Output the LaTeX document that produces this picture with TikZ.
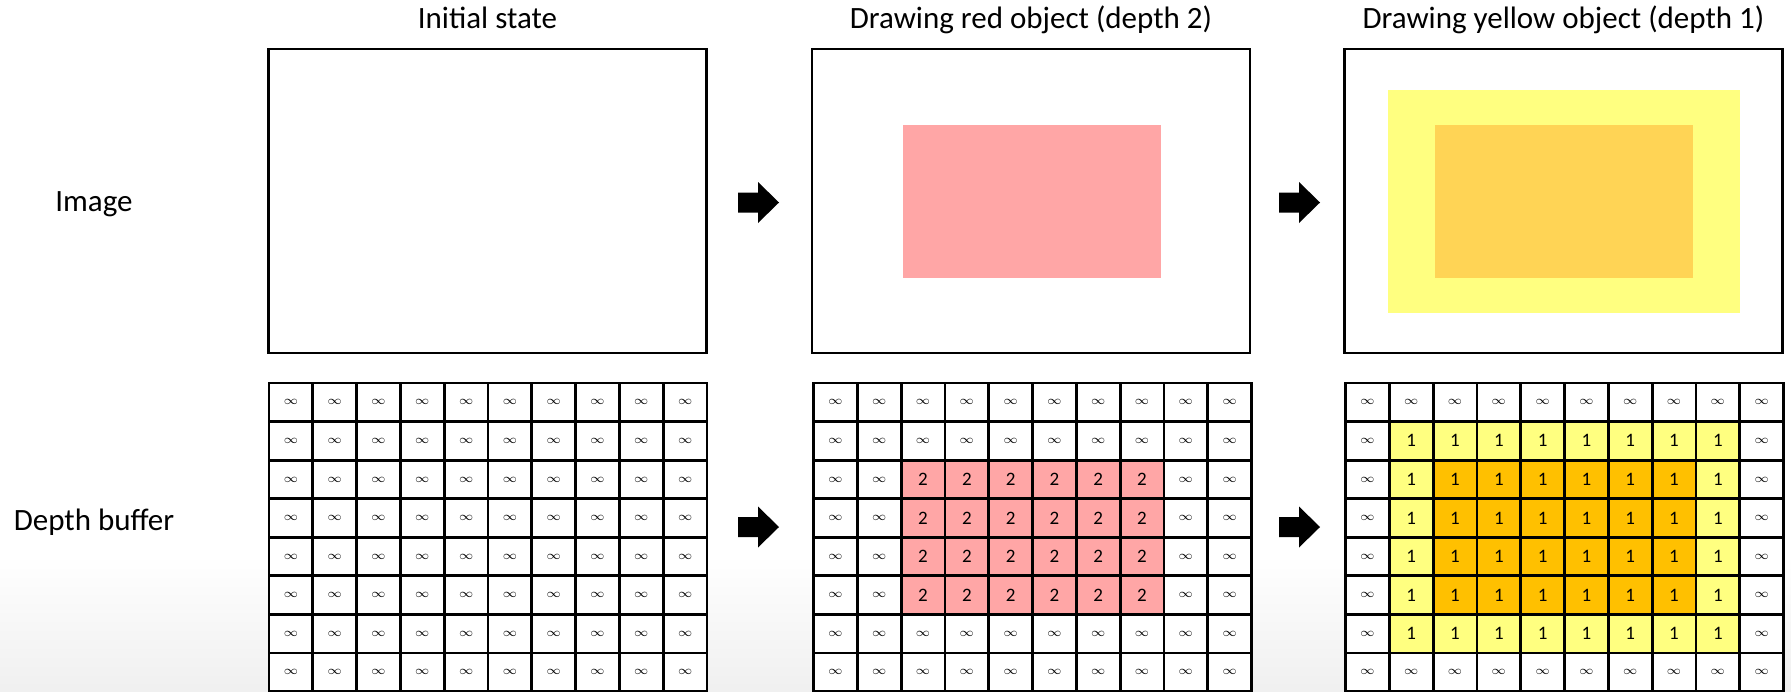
\documentclass[tikz,border=0pt]{standalone}
\usepackage{fontspec}
\setmainfont{Carlito}
\usetikzlibrary{positioning}
\definecolor{objred}{HTML}{FFA6A6}
\definecolor{objyellow}{HTML}{FFFF80}
\definecolor{objorange}{HTML}{FFD455}
\definecolor{cellgold}{HTML}{FFC000}

\begin{document}
\begin{tikzpicture}[x=0.5pt,y=-0.5pt,every node/.style={font=\fontsize{15.5}{19}\selectfont},
    frame/.style={draw,line width=1.2pt,minimum width=219pt,minimum height=152pt,inner sep=0pt},
    cell/.style={draw,line width=1.4pt,minimum width=21.9pt,minimum height=19.285pt,inner sep=0pt,
      font=\fontsize{9.5}{10}\selectfont},
    lbl/.style={anchor=base}]
    \useasboundingbox (0,0) rectangle (1791,691);
    \shade[top color=white,bottom color=black!6] (0,555) rectangle (1791,691);
    \def\cw{43.8}\def\ch{38.57}
    \def\inf{{\fontsize{6.5}{7}\selectfont$\infty$}}
    % image row
    \node[frame] (img1) at (487.5,201) {};
    \node[frame] (img2) at (1031,201) {};
    \node[frame] (img3) at (1563.5,201) {};
    \fill[objred] (902.5,125) rectangle (1160.5,278);
    \fill[objyellow] (1387.5,90) rectangle (1739.5,312.5);
    \fill[objorange] (1434.5,125) rectangle (1692.5,278);
    \node[lbl] (t1) at (487.5,28) {Initial state};
    \node[lbl] (t2) at (1031,28) {Drawing red object (depth 2)};
    \node[lbl] (t3) at (1563.5,28) {Drawing yellow object (depth 1)};
    \node[lbl] (limg) at (94,211) {Image};
    \node[lbl] (ldb) at (94,530) {Depth buffer};
    % depth buffers
    \foreach \r in {0,...,7}{ \foreach \c in {0,...,9}{
      \node[cell,fill=white] (ini-\r-\c) at ({269+(\c+0.5)*\cw},{383+(\r+0.5)*\ch}) {\inf};
      \def\cf{white}\def\ct{\inf}
      \ifnum\c>1 \ifnum\c<8 \ifnum\r>1 \ifnum\r<6 \def\cf{objred}\def\ct{2}\fi\fi\fi\fi
      \node[cell,fill=\cf] (red-\r-\c) at ({813.5+(\c+0.5)*\cw},{383+(\r+0.5)*\ch}) {\ct};
      \def\cf{white}\def\ct{\inf}
      \ifnum\c>0 \ifnum\c<9 \ifnum\r>0 \ifnum\r<7 \def\cf{objyellow}\def\ct{1}\fi\fi\fi\fi
      \ifnum\c>1 \ifnum\c<8 \ifnum\r>1 \ifnum\r<6 \def\cf{cellgold}\fi\fi\fi\fi
      \node[cell,fill=\cf] (yel-\r-\c) at ({1345.5+(\c+0.5)*\cw},{383+(\r+0.5)*\ch}) {\ct};
    }}
    % block arrows
    \foreach \ax/\ay in {738/202.5,738/527,1279/202.5,1279/527}
      \fill (\ax,\ay-10) -- ++(20,0) -- ++(0,-10.5) -- ++(21,20.5) -- ++(-21,20.5)
        -- ++(0,-10.5) -- ++(-20,0) -- cycle;
\end{tikzpicture}
\end{document}
